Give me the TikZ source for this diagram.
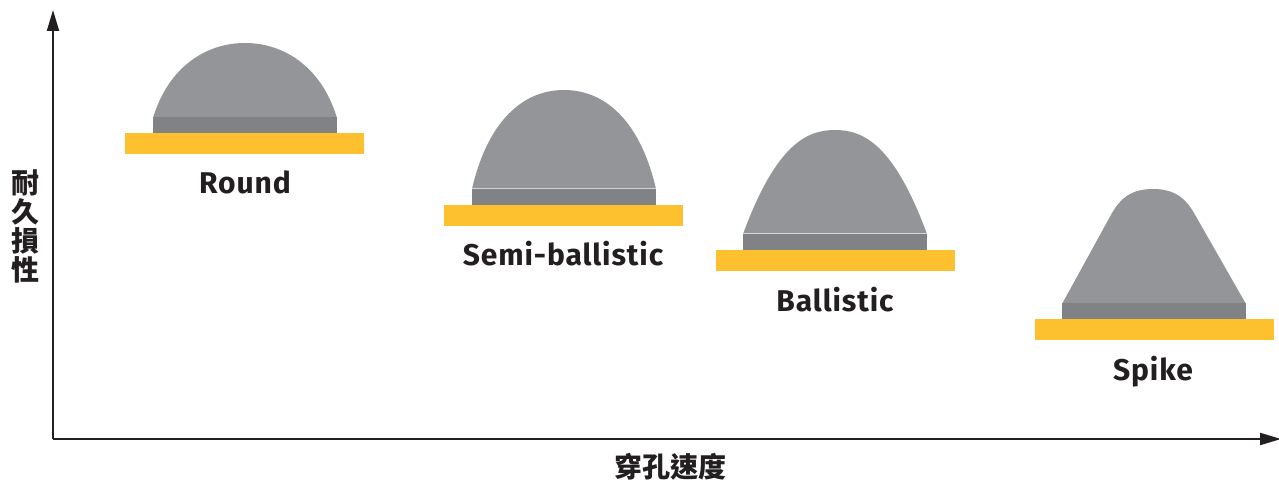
\documentclass[tikz,border=0pt]{standalone}
\usepackage{fontspec}
\setmainfont{Fira Sans}[LetterSpace=3]
\newfontfamily\cjk{Noto Sans CJK TC}
\usetikzlibrary{arrows.meta}
\definecolor{dome}{HTML}{939598}
\definecolor{basegray}{HTML}{808285}
\definecolor{plate}{HTML}{FDC02F}
\definecolor{ink}{HTML}{231F20}
\tikzset{
  axis/.style={line width=2, draw=ink, -{Triangle[length=21, width=12]}},
  lbl/.style={font=\fontsize{30}{32}\selectfont\bfseries, text=ink, anchor=base, inner sep=0},
  cjklbl/.style={font=\cjk\fontsize{28}{29}\selectfont\bfseries, text=ink, inner sep=0},
  domefill/.style={fill=dome},
  basefill/.style={fill=basegray},
  platefill/.style={fill=plate},
  seam/.style={draw=white!60!dome, line width=1}
}
\begin{document}
\begin{tikzpicture}[x=1pt,y=-1pt]
\useasboundingbox (0,0) rectangle (1279,484);
% axes
\coordinate (O) at (53,439);
\coordinate (Ytop) at (53,10);
\coordinate (Xend) at (1281,439);
\draw[axis] (O) -- (Ytop);
\draw[axis] (O) -- (Xend);
\node[cjklbl, align=center] (ylab) at (25,226) {耐\\[0pt]久\\[0pt]損\\[0pt]性};
\node[cjklbl] (xlab) at (670,467) {穿孔速度};

% Round
\fill[domefill] (153,118) .. controls (168,68) and (205,43) .. (245,43)
  .. controls (285,43) and (322,68) .. (337,118) -- cycle;
\fill[basefill] (153,117) rectangle (337,133);
\fill[platefill] (125,133) rectangle (364,154);
\node[lbl] (round) at (245,193) {Round};

% Semi-ballistic
\fill[domefill] (472,189) .. controls (486,128) and (518,90) .. (564,90)
  .. controls (610,90) and (642,128) .. (656,189) -- cycle;
\fill[basefill] (472,188) rectangle (656,205);
\draw[seam] (472,188) -- (656,188);
\fill[platefill] (444,205) rectangle (683,226);
\node[lbl] (semi) at (563,265) {Semi-ballistic};

% Ballistic
\fill[domefill] (743,234) .. controls (776,145) and (806,130) .. (835,130)
  .. controls (864,130) and (894,145) .. (927,234) -- cycle;
\fill[basefill] (743,233) rectangle (927,250);
\draw[seam] (743,233) -- (927,233);
\fill[platefill] (716,250) rectangle (955,271);
\node[lbl] (ball) at (835,311) {Ballistic};

% Spike
\fill[domefill] (1062,304) -- (1112,213) .. controls (1123,194) and (1136,189) .. (1153,189)
  .. controls (1170,189) and (1183,194) .. (1194,213) -- (1246,304) -- cycle;
\fill[basefill] (1062,303) rectangle (1246,319);
\fill[platefill] (1035,319) rectangle (1274,340);
\node[lbl] (spike) at (1153,380) {Spike};
\end{tikzpicture}
\end{document}
